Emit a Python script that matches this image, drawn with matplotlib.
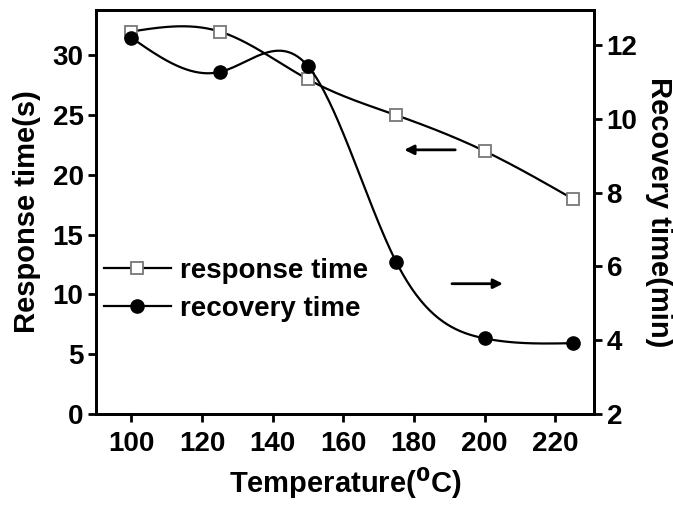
import numpy as np
import matplotlib
matplotlib.use("Agg")
import matplotlib.pyplot as plt
from matplotlib.lines import Line2D

temperature = [100, 125, 150, 175, 200, 225]
response_time = [32, 32, 28, 25, 22, 18]          # seconds
recovery_time = [12.2, 11.27, 11.43, 6.12, 4.05, 3.92]  # minutes

x_ticks = [100, 120, 140, 160, 180, 200, 220]
left_ticks = [0, 5, 10, 15, 20, 25, 30]
right_ticks = [2, 4, 6, 8, 10, 12]


def natural_spline(x, y, n=300):
    x = np.asarray(x, float)
    y = np.asarray(y, float)
    m = len(x)
    h = np.diff(x)
    A = np.zeros((m, m))
    b = np.zeros(m)
    A[0, 0] = A[-1, -1] = 1.0
    for i in range(1, m - 1):
        A[i, i - 1] = h[i - 1]
        A[i, i] = 2 * (h[i - 1] + h[i])
        A[i, i + 1] = h[i]
        b[i] = 6 * ((y[i + 1] - y[i]) / h[i] - (y[i] - y[i - 1]) / h[i - 1])
    M = np.linalg.solve(A, b)
    xs = np.linspace(x[0], x[-1], n)
    idx = np.clip(np.searchsorted(x, xs) - 1, 0, m - 2)
    x0, x1 = x[idx], x[idx + 1]
    hi = x1 - x0
    ys = (M[idx] * (x1 - xs) ** 3 / (6 * hi) + M[idx + 1] * (xs - x0) ** 3 / (6 * hi)
          + (y[idx] / hi - M[idx] * hi / 6) * (x1 - xs)
          + (y[idx + 1] / hi - M[idx + 1] * hi / 6) * (xs - x0))
    return xs, ys


plt.rcParams['font.family'] = ['Liberation Sans', 'DejaVu Sans']
plt.rcParams['font.weight'] = 'bold'
plt.rcParams['mathtext.default'] = 'bf'

fig = plt.figure(figsize=(6.73, 5.12), dpi=100)
ax = fig.add_axes([96 / 673, 1 - 414 / 512, (594 - 96) / 673, (414 - 10) / 512])
ax2 = ax.twinx()

xs, ys = natural_spline(temperature, response_time)
ax.plot(xs, ys, color='black', lw=1.6, zorder=2)
ax.plot(temperature, response_time, ls='none', marker='s', ms=8, mfc='white',
        mec='#777777', mew=1.3, zorder=3)

xs2, ys2 = natural_spline(temperature, recovery_time)
ax2.plot(xs2, ys2, color='black', lw=1.6, zorder=2)
ax2.plot(temperature, recovery_time, ls='none', marker='o', ms=9.5, mfc='black',
         mec='black', zorder=3)

ax.set_xlim(90, 231)
ax.set_ylim(0, 33.8)
ax2.set_ylim(2, 12.95)
ax.set_xticks(x_ticks)
ax.set_yticks(left_ticks)
ax2.set_yticks(right_ticks)

for a in (ax, ax2):
    for s in a.spines.values():
        s.set_linewidth(2)
    a.tick_params(direction='out', length=6, width=2, labelsize=20, pad=3)
    for lab in a.get_xticklabels() + a.get_yticklabels():
        lab.set_fontweight('bold')
ax.tick_params(axis='x', pad=6)

ax.set_xlabel('Temperature($^{0}$C)', fontsize=21, fontweight='bold', labelpad=6)
ax.set_ylabel('Response time(s)', fontsize=21, fontweight='bold', labelpad=8)
ax2.set_ylabel('Recovery time(min)', fontsize=21, fontweight='bold', rotation=270,
               labelpad=26)

h1 = Line2D([], [], color='black', lw=1.6, marker='s', ms=8, mfc='white', mec='#777777', mew=1.3)
h2 = Line2D([], [], color='black', lw=1.6, marker='o', ms=9.5, mfc='black', mec='black')
ax.legend([h1, h2], ['response time', 'recovery time'], loc='upper left',
          bbox_to_anchor=(-0.023, 0.435), frameon=False,
          handlelength=2.4, handletextpad=0.35, labelspacing=0.45, borderpad=0.2,
          prop={'weight': 'bold', 'size': 20})

# arrows pointing each curve to its own y axis
ax.annotate('', xy=(176.5, 22.1), xytext=(192.5, 22.1),
            arrowprops=dict(arrowstyle='-|>', color='black', lw=2, mutation_scale=14),
            annotation_clip=False)
ax.annotate('', xy=(206, 10.9), xytext=(190, 10.9),
            arrowprops=dict(arrowstyle='-|>', color='black', lw=2, mutation_scale=14),
            annotation_clip=False)

fig.savefig('out.png', dpi=100)
